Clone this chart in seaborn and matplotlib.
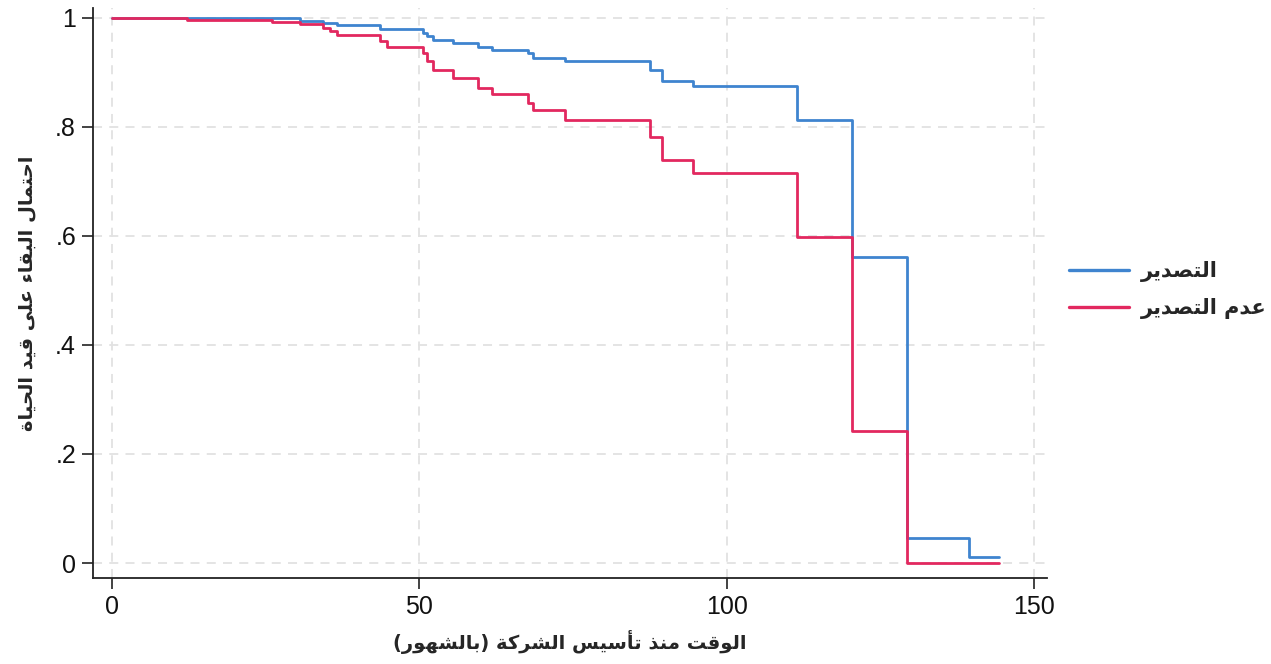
import matplotlib
matplotlib.use('Agg')
import matplotlib.pyplot as plt
import seaborn as sns
import pandas as pd

# Kaplan-Meier steps (time in months, survival probability)
export_t = [0, 30.6, 34.3, 36.6, 43.6, 50.6, 51.2, 52.2, 55.5, 59.5, 61.8, 67.7, 68.5,
            73.7, 87.5, 89.5, 94.5, 111.4, 120.4, 129.3, 139.3, 144.2]
export_s = [1.0, 0.995, 0.99, 0.987, 0.979, 0.972, 0.966, 0.96, 0.953, 0.947, 0.941, 0.935, 0.927,
            0.92, 0.905, 0.884, 0.874, 0.812, 0.561, 0.046, 0.011, 0.011]

noexport_t = [0, 12.2, 26.0, 30.6, 34.3, 35.5, 36.6, 43.6, 44.7, 50.6, 51.2, 52.2, 55.5, 59.5,
              61.8, 67.7, 68.5, 73.7, 87.5, 89.5, 94.5, 111.4, 120.4, 129.3, 144.2]
noexport_s = [1.0, 0.996, 0.993, 0.989, 0.981, 0.975, 0.969, 0.957, 0.947, 0.935, 0.92, 0.905, 0.89, 0.871,
              0.86, 0.843, 0.83, 0.813, 0.781, 0.74, 0.716, 0.598, 0.243, 0.0, 0.0]

group_names = ['التصدير', 'عدم التصدير']
x_label = 'الوقت منذ تأسيس الشركة (بالشهور)'
y_label = 'احتمال البقاء على قيد الحياة'
x_ticks = [0, 50, 100, 150]
y_ticks = [0, 0.2, 0.4, 0.6, 0.8, 1]
y_tick_labels = ['0', '.2', '.4', '.6', '.8', '1']

# minimal Arabic shaping: presentation form base (isolated) and whether the letter joins forward
FORMS = {
    'ء': (0xFE80, False), 'آ': (0xFE81, False), 'أ': (0xFE83, False), 'إ': (0xFE87, False),
    'ا': (0xFE8D, False), 'ب': (0xFE8F, True), 'ة': (0xFE93, False), 'ت': (0xFE95, True),
    'ث': (0xFE99, True), 'ج': (0xFE9D, True), 'ح': (0xFEA1, True), 'خ': (0xFEA5, True),
    'د': (0xFEA9, False), 'ذ': (0xFEAB, False), 'ر': (0xFEAD, False), 'ز': (0xFEAF, False),
    'س': (0xFEB1, True), 'ش': (0xFEB5, True), 'ص': (0xFEB9, True), 'ض': (0xFEBD, True),
    'ط': (0xFEC1, True), 'ظ': (0xFEC5, True), 'ع': (0xFEC9, True), 'غ': (0xFECD, True),
    'ف': (0xFED1, True), 'ق': (0xFED5, True), 'ك': (0xFED9, True), 'ل': (0xFEDD, True),
    'م': (0xFEE1, True), 'ن': (0xFEE5, True), 'ه': (0xFEE9, True), 'و': (0xFEED, False),
    'ى': (0xFEEF, False), 'ي': (0xFEF1, True),
}


def shape(text):
    out = []
    for i, c in enumerate(text):
        if c not in FORMS:
            out.append(c)
            continue
        base, dual = FORMS[c]
        prev = text[i - 1] if i > 0 else ''
        nxt = text[i + 1] if i + 1 < len(text) else ''
        if c == 'ء':
            out.append(chr(base))
            continue
        join_prev = prev in FORMS and FORMS[prev][1]
        join_next = dual and nxt in FORMS and nxt != 'ء'
        if join_prev and join_next:
            code = base + 3
        elif join_prev:
            code = base + 1
        elif join_next:
            code = base + 2
        else:
            code = base
        out.append(chr(code))
    vis = ''.join(reversed(out))
    return vis.translate(str.maketrans('()', ')('))


df = pd.concat([
    pd.DataFrame({'t': export_t, 's': export_s, 'group': shape(group_names[0])}),
    pd.DataFrame({'t': noexport_t, 's': noexport_s, 'group': shape(group_names[1])}),
])

sns.set_style('ticks')
plt.rcParams['font.family'] = ['Liberation Sans', 'DejaVu Sans']

fig = plt.figure(figsize=(12.71, 6.64), dpi=100)
ax = fig.add_axes([0.073, 0.1295, 0.751, 0.8585])

ax.grid(True, ls=(0, (5, 4)), color='#e2e2e2', lw=1.3)
ax.set_axisbelow(True)

sns.lineplot(data=df, x='t', y='s', hue='group', palette=['#3f84cf', '#e2285f'],
             drawstyle='steps-post', estimator=None, sort=False, lw=2.0, ax=ax)

ax.set_xlim(-3.1, 152.1)
ax.set_ylim(-0.0275, 1.018)
ax.set_xticks(x_ticks)
ax.set_yticks(y_ticks)
ax.set_yticklabels(y_tick_labels)
ax.tick_params(axis='both', labelsize=18, labelcolor='#111111', length=8, width=1.2,
               color='#222222', pad=4)
for side in ['top', 'right']:
    ax.spines[side].set_visible(False)
for side in ['left', 'bottom']:
    ax.spines[side].set_linewidth(1.3)
    ax.spines[side].set_color('#222222')

arabic_font = dict(family='DejaVu Sans', weight='bold', size=14)
ax.set_xlabel(shape(x_label), fontdict=arabic_font, labelpad=8)
ax.set_ylabel(shape(y_label), fontdict=arabic_font, labelpad=14)

handles, labels = ax.get_legend_handles_labels()
legend_font = dict(family='DejaVu Sans', weight='bold', size=15)
ax.legend(handles, labels, loc='center left', bbox_to_anchor=(1.014, 0.505), frameon=False,
          prop=legend_font, handlelength=2.9, handletextpad=0.55, labelspacing=0.75,
          borderaxespad=0)
for line in ax.get_legend().get_lines():
    line.set_linewidth(2.4)

fig.savefig('out.png', dpi=100)
